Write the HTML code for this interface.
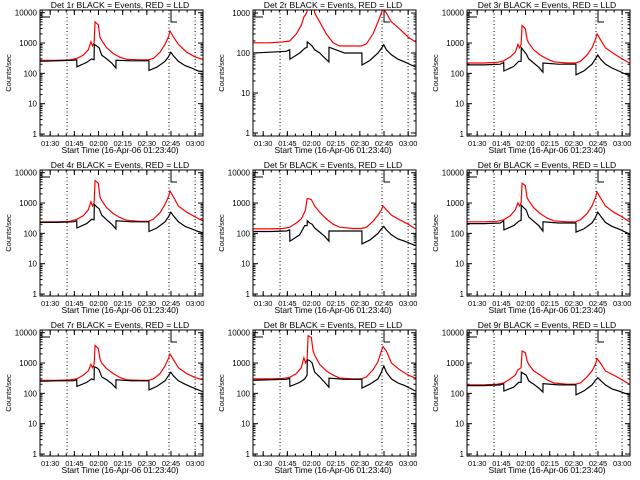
<!DOCTYPE html>
<html><head><meta charset="utf-8"><style>
html,body{margin:0;padding:0;background:#fff;}
svg{display:block;font-family:"Liberation Sans",sans-serif;}
</style></head><body>
<svg id="fig" width="640" height="480" viewBox="0 0 640 480" xmlns="http://www.w3.org/2000/svg"></svg>
<script>
// time (minutes since 01:23:40) of black (events) and red (LLD) samples
const timesBlack = [0,10.4,20.7,22.8,22.9,29,32.1,33.6,33.7,35.2,36.7,38.3,41.4,44.5,47.1,47.2,56.9,67.6,67.7,72.5,77.6,79.7,81.2,82.8,85.9,90,94.2,98.3,100.9];
const timesRed = [0,10.4,18.6,22.8,26.9,30,31.6,32.6,33.6,34.2,36.2,37.3,38.3,41.4,45.5,49.7,53.8,62.1,67.3,70.4,74.5,77.6,79.7,80.7,82.8,85.9,91.1,96.3,100.9];
const detectors = ["1r","2r","3r","4r","5r","6r","7r","8r","9r"];
const black1 = [250,260,270,280,165,230,300,280,900,800,700,400,300,220,150,270,260,260,125,160,250,350,500,380,250,180,150,120,115];
const black2 = [100,105,110,120,70,100,130,140,190,170,150,120,100,75,60,140,100,100,50,65,100,130,160,120,90,70,60,50,45];
const black3 = [190,190,200,230,120,170,250,250,700,550,450,300,220,160,110,220,200,200,90,120,200,300,400,300,200,150,120,95,85];
const black4 = [230,230,240,260,150,210,290,280,900,750,650,400,280,200,140,260,240,240,115,150,240,350,500,380,240,170,140,115,105];
const black5 = [115,115,120,130,55,90,180,180,260,220,200,150,110,80,55,120,120,120,45,60,100,140,170,130,90,65,55,45,40];
const black6 = [210,210,220,260,130,180,250,270,850,700,600,350,250,180,120,240,220,220,110,140,220,330,500,380,230,170,140,110,95];
const black7 = [250,260,260,280,170,230,300,280,750,700,600,350,280,210,150,280,260,260,130,170,260,380,500,380,260,200,160,130,115];
const black8 = [270,280,290,310,170,230,300,400,1300,1200,1000,500,350,230,160,320,290,290,150,200,300,500,800,500,300,220,180,140,120];
const black9 = [180,180,190,210,120,160,230,230,500,450,400,260,200,150,110,210,190,190,90,120,190,270,330,270,190,140,120,100,90];
const red1 = [270,270,280,310,400,600,1100,800,1000,5000,4000,1500,1200,700,450,340,290,280,280,310,500,900,1600,2500,1600,900,500,350,290];
const red2 = [180,180,190,200,300,500,800,900,1100,3000,3000,2000,1000,600,300,180,150,150,150,170,300,600,1000,1300,1000,600,400,250,190];
const red3 = [220,220,230,260,350,500,900,700,900,3800,3000,1300,1000,600,400,300,240,220,220,250,400,700,1300,2000,1300,700,450,300,220];
const red4 = [240,240,250,290,380,600,1100,800,1000,5500,4500,1500,1200,700,450,330,270,250,250,290,480,900,1600,2500,1600,800,500,350,260];
const red5 = [140,140,145,160,220,300,450,600,1400,1400,1300,1000,800,500,300,200,160,145,145,160,250,400,600,800,600,400,280,200,140];
const red6 = [240,240,250,280,380,600,1000,800,1000,4500,3800,1500,1200,700,450,320,260,240,240,280,450,800,1500,2300,1500,800,500,350,240];
const red7 = [270,270,280,300,400,550,900,700,900,3800,3000,1300,1000,650,450,330,280,270,270,300,450,800,1400,2000,1300,700,450,330,280];
const red8 = [300,300,310,340,450,700,1500,1000,1300,8000,7000,2500,1800,900,550,400,320,300,300,350,600,1100,2500,3500,2500,1000,600,400,320];
const red9 = [190,190,200,220,300,400,600,650,700,2500,2200,1200,900,550,400,280,220,200,200,220,350,550,900,1400,1000,550,400,280,200];
const yMaxes = [12300,1190,12300,12300,12300,12300,12300,12300,12300];
const yMins = [0.86,0.84,0.86,0.86,0.86,0.86,0.86,0.86,0.86];
const xTickLabels = ["01:30","01:45","02:00","02:15","02:30","02:45","03:00"];
const xTickTimes = [6.33,21.33,36.33,51.33,66.33,81.33,96.33];
const markerTimes = [16.8,80.1,96.3];
const TMAX = 101.2;

const blacks=[black1,black2,black3,black4,black5,black6,black7,black8,black9];
const reds=[red1,red2,red3,red4,red5,red6,red7,red8,red9];
const NS="http://www.w3.org/2000/svg";
const svg=document.getElementById('fig');
function mk(tag,attrs,parent){const e=document.createElementNS(NS,tag);for(const k in attrs)e.setAttribute(k,attrs[k]);(parent||svg).appendChild(e);return e;}

for(let p=0;p<9;p++){
  const ox=[0,213,427][p%3], oy=[0,160,320][Math.floor(p/3)];
  const L=ox+40,R=ox+203,T=oy+10,B=oy+136;
  const lmin=Math.log10(yMins[p]),lmax=Math.log10(yMaxes[p]);
  const xs=t=>L+(R-L)*t/TMAX;
  const ys=v=>B-(B-T)*(Math.log10(v)-lmin)/(lmax-lmin);
  const g=mk('g',{});
  
  
  const cid='clip'+p;
  const cp=mk('clipPath',{id:cid},g);mk('rect',{x:L,y:T,width:R-L,height:B-T},cp);
  const tt=mk('text',{x:ox+120,y:oy+8,'text-anchor':'middle','font-size':'8.6'},g);
  tt.textContent='Det '+detectors[p]+' BLACK = Events, RED = LLD';
  
  
  const yl=mk('text',{x:0,y:0,'text-anchor':'middle','font-size':'7.5',transform:`translate(${ox+11},${(T+B)/2}) rotate(-90)`},g);
  yl.textContent='Counts/sec';
  
  
  const xl=mk('text',{x:ox+120,y:oy+153,'text-anchor':'middle','font-size':'8.5','letter-spacing':'-0.1'},g);
  xl.textContent='Start Time (16-Apr-06 01:23:40)';
  
  
  for(let d=0;d<=4;d++){
    const v=Math.pow(10,d);
    if(v>yMaxes[p])break;
    const y=ys(v);
    mk('line',{x1:L,x2:L+5,y1:y,y2:y,stroke:'#000'},g);
    mk('line',{x1:R,x2:R-5,y1:y,y2:y,stroke:'#000'},g);
    const lab=mk('text',{x:L-3,y:y+3,'text-anchor':'end','font-size':'8'},g);
    lab.textContent=String(v);
    
    
    for(let m=2;m<10;m++){const vv=v*m;if(vv>yMaxes[p])break;const yy=ys(vv);
      mk('line',{x1:L,x2:L+2.5,y1:yy,y2:yy,stroke:'#000'},g);
      mk('line',{x1:R,x2:R-2.5,y1:yy,y2:yy,stroke:'#000'},g);}
  }
  for(let i=0;i<xTickTimes.length;i++){
    const x=xs(xTickTimes[i]);
    mk('line',{x1:x,x2:x,y1:B,y2:B-5,stroke:'#000'},g);
    mk('line',{x1:x,x2:x,y1:T,y2:T+5,stroke:'#000'},g);
    const lab=mk('text',{x:x,y:oy+146,'text-anchor':'middle','font-size':'7.5','letter-spacing':'-0.1'},g);
    lab.textContent=xTickLabels[i];
    
    
  }
  for(let t=1.33;t<TMAX;t+=5){const x=xs(t);
    mk('line',{x1:x,x2:x,y1:B,y2:B-2.5,stroke:'#000'},g);
    mk('line',{x1:x,x2:x,y1:T,y2:T+2.5,stroke:'#000'},g);}
  markerTimes.forEach(t=>{const x=xs(t);
    const ml=mk('line',{x1:x,x2:x,y1:T,y2:B,stroke:'#000','stroke-dasharray':'1 2.5'},g);
    
    });
  mk('path',{d:`M${L+2} ${T+2}V${T+7}H${L+10}`,fill:'none',stroke:'#000'},g);
  mk('path',{d:`M${xs(markerTimes[1])+2} ${T}V${T+12}H${xs(markerTimes[1])+8}`,fill:'none',stroke:'#000'},g);
  const pts=(ts,vs)=>ts.map((t,i)=>xs(t).toFixed(1)+','+ys(vs[i]).toFixed(1)).join(' ');
  const rl=mk('polyline',{points:pts(timesRed,reds[p]),fill:'none',stroke:'#ff0000','stroke-width':'1.2','clip-path':`url(#${cid})`},g);
  
  
  const bl=mk('polyline',{points:pts(timesBlack,blacks[p]),fill:'none',stroke:'#000','stroke-width':'1.2','clip-path':`url(#${cid})`},g);
  
  
  const box=mk('rect',{x:L,y:T,width:R-L,height:B-T,fill:'none',stroke:'#000'},g);
  
  
}
</script>
</body></html>
